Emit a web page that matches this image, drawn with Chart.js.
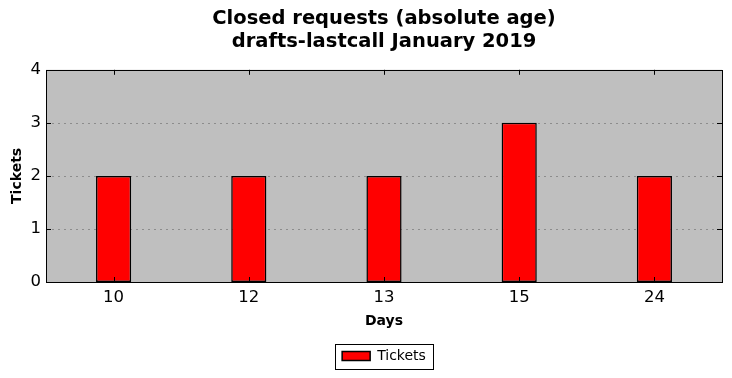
<!DOCTYPE html>
<html>
<head>
<meta charset="utf-8">
<script src="https://cdn.jsdelivr.net/npm/chart.js@4"></script>
<style>
  html, body { margin: 0; padding: 0; background: #ffffff; }
  #wrap { width: 732px; height: 378px; }
</style>
</head>
<body>
<div id="wrap"><canvas id="ticketChart" width="732" height="378"></canvas></div>
<script>
const days = ['10', '12', '13', '15', '24'];
const tickets = [2, 2, 2, 3, 2];
const yTicks = [0, 1, 2, 3, 4];

const FONT = "'DejaVu Sans', sans-serif";

// grey plot background, dotted grid, black frame, inward tick marks, legend box
const plotFrame = {
    id: 'plotFrame',
    afterLayout(chart) {
        const a = chart.chartArea;
        const mid = (a.left + a.right) / 2;
        [chart.legend, chart.titleBlock].forEach(box => {
            if (!box) return;
            const shift = mid - (box.left + box.right) / 2;
            box.left += shift;
            box.right += shift;
        });
    },
    beforeDatasetsDraw(chart) {
        const { ctx, chartArea: a } = chart;
        ctx.save();
        ctx.fillStyle = '#bfbfbf';
        ctx.fillRect(a.left, a.top, a.right - a.left, a.bottom - a.top);
        ctx.strokeStyle = '#8c8c8c';
        ctx.lineWidth = 1;
        ctx.setLineDash([2, 4]);
        const y = chart.scales.y;
        yTicks.forEach(v => {
            if (v === yTicks[0] || v === yTicks[yTicks.length - 1]) return;
            const py = Math.round(y.getPixelForValue(v)) + 0.5;
            ctx.beginPath();
            ctx.moveTo(a.left, py);
            ctx.lineTo(a.right, py);
            ctx.stroke();
        });
        ctx.restore();
    },
    afterDatasetsDraw(chart) {
        const { ctx, chartArea: a } = chart;
        const x = chart.scales.x;
        const y = chart.scales.y;
        ctx.save();
        ctx.strokeStyle = '#000000';
        ctx.lineWidth = 1;
        days.forEach((d, i) => {
            const px = Math.round(x.getPixelForValue(i)) + 0.5;
            ctx.beginPath();
            ctx.moveTo(px, a.top);
            ctx.lineTo(px, a.top + 5);
            ctx.moveTo(px, a.bottom);
            ctx.lineTo(px, a.bottom - 5);
            ctx.stroke();
        });
        yTicks.forEach(v => {
            const py = Math.round(y.getPixelForValue(v)) + 0.5;
            ctx.beginPath();
            ctx.moveTo(a.left, py);
            ctx.lineTo(a.left + 5, py);
            ctx.moveTo(a.right, py);
            ctx.lineTo(a.right - 5, py);
            ctx.stroke();
        });
        ctx.strokeRect(Math.round(a.left) + 0.5, Math.round(a.top) + 0.5,
            Math.round(a.right - a.left), Math.round(a.bottom - a.top));
        ctx.restore();
    },
    afterDraw(chart) {
        const lg = chart.legend;
        if (!lg) return;
        const ctx = chart.ctx;
        ctx.save();
        ctx.strokeStyle = '#000000';
        ctx.lineWidth = 1;
        const w = 98, h = 25;
        const cx = (lg.left + lg.right) / 2;
        const cy = lg.top + 17;
        ctx.strokeRect(Math.round(cx - w / 2) + 0.5, Math.round(cy - h / 2) + 0.5, w, h);
        ctx.restore();
    }
};

new Chart(document.getElementById('ticketChart'), {
    type: 'bar',
    data: {
        labels: days,
        datasets: [{
            label: 'Tickets',
            data: tickets,
            backgroundColor: '#ff0000',
            borderColor: '#000000',
            borderWidth: 1.5,
            borderSkipped: false,
            barPercentage: 0.26,
            categoryPercentage: 1.0
        }]
    },
    options: {
        responsive: false,
        animation: false,
        layout: { padding: { left: 0, right: 10, top: 0, bottom: 5 } },
        plugins: {
            title: {
                display: true,
                text: ['Closed requests (absolute age)', 'drafts-lastcall January 2019'],
                color: '#000000',
                font: { family: FONT, size: 19.5, weight: 'bold', lineHeight: 1.2 },
                padding: { top: 7, bottom: 16 }
            },
            legend: {
                position: 'bottom',
                labels: {
                    color: '#000000',
                    font: { family: FONT, size: 14 },
                    boxWidth: 28,
                    boxHeight: 9,
                    padding: 10
                }
            },
            tooltip: { enabled: false }
        },
        scales: {
            x: {
                grid: { display: false, drawTicks: false },
                border: { display: false },
                ticks: { color: '#000000', font: { family: FONT, size: 16.5 }, padding: 6 },
                title: {
                    display: true,
                    text: 'Days',
                    color: '#000000',
                    font: { family: FONT, size: 14, weight: 'bold' },
                    padding: { top: 2, bottom: 9 }
                },
                afterFit(scale) { scale.height = 57; }
            },
            y: {
                min: 0,
                max: 4,
                grid: { display: false, drawTicks: false },
                border: { display: false },
                ticks: {
                    stepSize: 1,
                    color: '#000000',
                    font: { family: FONT, size: 16.5 },
                    padding: 5
                },
                title: {
                    display: true,
                    text: 'Tickets',
                    color: '#000000',
                    font: { family: FONT, size: 14, weight: 'bold' },
                    padding: { top: 9, bottom: 4 }
                },
                afterFit(scale) { scale.width = 46; }
            }
        }
    },
    plugins: [plotFrame]
});
</script>
</body>
</html>
